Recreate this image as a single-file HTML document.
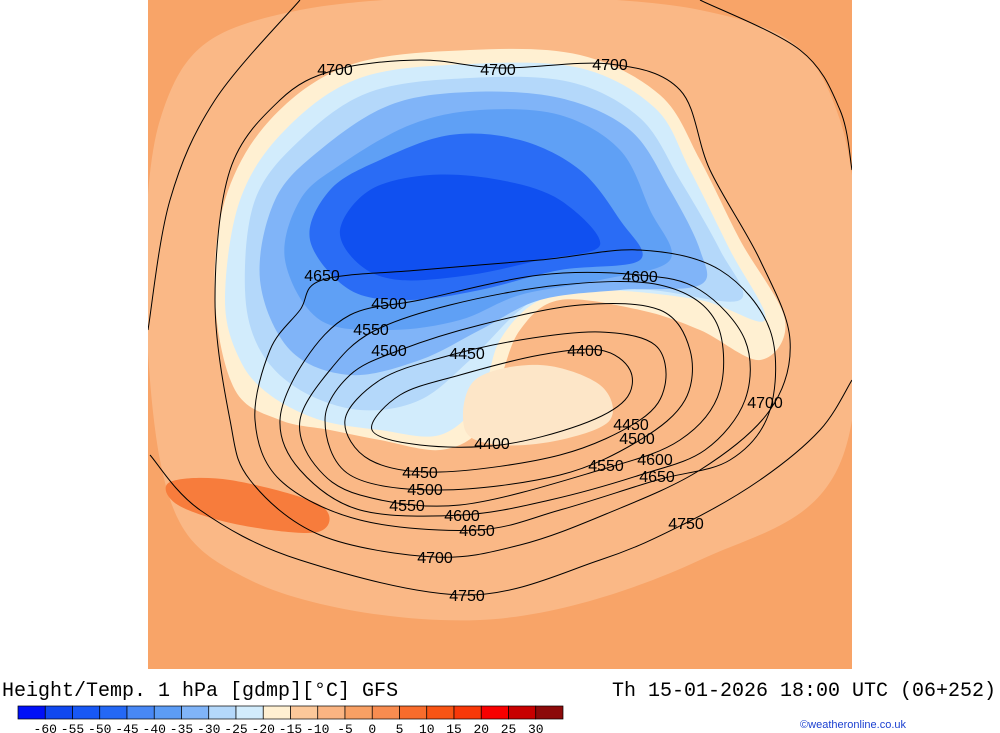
<!DOCTYPE html>
<html><head><meta charset="utf-8"><style>
body{margin:0;background:#fff;width:1000px;height:733px;overflow:hidden;font-family:"Liberation Sans",sans-serif}
svg{position:absolute;left:0;top:0}
</style></head><body>
<svg id="s" width="1000" height="733">
<rect x="0" y="0" width="1000" height="733" fill="#fff"/>
<clipPath id="mc"><rect x="148" y="0" width="704" height="669"/></clipPath>
<g id="map" clip-path="url(#mc)">
<rect x="148" y="0" width="704" height="669" fill="#f8a468"/>
</g>
<text x="2" y="696" font-family="Liberation Mono, monospace" font-size="20">Height/Temp. 1 hPa [gdmp][°C] GFS</text>
<text x="996" y="696" text-anchor="end" font-family="Liberation Mono, monospace" font-size="20">Th 15-01-2026 18:00 UTC (06+252)</text>
<g id="cb"></g>
<text x="906" y="728" text-anchor="end" font-size="11" fill="#1a3fd0">©weatheronline.co.uk</text>
</svg>
<script>
const cbColors=["#0010f8","#1048f0","#1858f5","#2468f5","#4888f5","#5c9cf5","#80b4f8","#b4d8fa","#d2ecfc","#fff0d2","#fcc89a","#fab482","#f8a064","#f88c50","#f86c2c","#f85414","#f83808","#f80000","#c80000","#8c0a0a"];
const cbLabels=["-60","-55","-50","-45","-40","-35","-30","-25","-20","-15","-10","-5","0","5","10","15","20","25","30"];
const levels=[4400,4450,4500,4550,4600,4650,4700,4750];
const NS="http://www.w3.org/2000/svg";
const s=document.getElementById('s'),map=document.getElementById('map'),cb=document.getElementById('cb');
function smooth(p,closed){
 let n=p.length,d="M"+p[0][0]+","+p[0][1];
 let last=closed?n:n-1;
 for(let i=0;i<last;i++){
  let p0=p[(i-1+n)%n],p1=p[i],p2=p[(i+1)%n],p3=p[(i+2)%n];
  if(!closed){if(i==0)p0=p1;if(i+2>=n)p3=p2;}
  let c1=[p1[0]+(p2[0]-p0[0])/6,p1[1]+(p2[1]-p0[1])/6],c2=[p2[0]-(p3[0]-p1[0])/6,p2[1]-(p3[1]-p1[1])/6];
  d+="C"+c1+" "+c2+" "+p2;
 }
 return d+(closed?"Z":"");
}
function fill(pts,col,name){const e=document.createElementNS(NS,'path');e.setAttribute('d',smooth(pts,true));e.setAttribute('fill',col);


map.appendChild(e);}
fill([[160,120],[300,10],[700,10],[840,120],[845,450],[700,560],[480,620],[250,580],[160,460]],"#fab886","warm-region");
fill([[170,482],[230,480],[320,505],[318,532],[240,525],[178,505]],"#f77c3c","warm-streak");
fill([[215,300],[225,200],[270,120],[350,65],[470,50],[580,55],[660,95],[700,160],[740,240],[785,320],[760,360],[700,330],[640,310],[560,300],[520,330],[500,380],[480,430],[440,450],[380,440],[330,430],[280,420],[235,390]],"#fff0d2","cream-band");
fill([[225,300],[240,200],[285,130],[360,78],[470,64],[580,68],[655,108],[690,170],[730,250],[765,320],[700,300],[600,290],[540,300],[500,340],[480,400],[440,435],[380,430],[320,420],[270,395],[240,360]],"#d2ecfc","cold-1");
fill([[245,290],[255,200],[300,140],[370,92],[470,78],[570,82],[640,118],[680,180],[720,250],[740,300],[650,290],[560,290],[520,310],[470,360],[420,400],[360,410],[300,390],[260,350]],"#b4d8fa","cold-2");
fill([[260,280],[275,200],[320,150],[390,105],[470,92],[560,98],[630,130],[670,190],[700,250],[700,285],[620,290],[540,300],[480,330],[420,360],[350,375],[290,350]],"#80b4f8","cold-3");
fill([[285,260],[300,200],[340,165],[410,125],[480,110],[560,115],[620,150],[650,210],[670,260],[600,280],[520,295],[460,320],[390,330],[320,320]],"#5fa0f5","cold-4");
fill([[310,240],[330,190],[380,160],[450,135],[520,140],[580,170],[620,220],[640,260],[560,270],[480,290],[410,300],[350,290]],"#2a6cf5","cold-5");
fill([[340,230],[370,190],[430,175],[500,180],[560,200],[600,245],[540,260],[470,275],[400,280],[360,265]],"#1050f0","cold-core");
fill([[475,380],[540,365],[600,385],[610,420],[560,440],[500,445],[465,430]],"#fde6c8","cream-patch");
const contours=[
 [[372,430],[400,395],[460,375],[540,355],[600,350],[630,370],[625,400],[580,425],[500,445],[420,445]],
 [[345,420],[380,380],[440,358],[520,340],[600,332],[655,345],[665,385],[640,420],[560,455],[440,472],[370,460]],
 [[325,420],[350,375],[400,350],[480,325],[580,305],[660,310],[690,350],[685,400],[640,440],[560,475],[440,490],[350,475]],
 [[300,420],[330,370],[372,332],[450,305],[560,285],[660,285],[715,320],[720,390],[680,440],[600,470],[460,505],[360,495],[315,465]],
 [[280,420],[305,360],[350,315],[420,300],[540,275],[640,275],[700,290],[745,340],[745,400],[705,450],[640,475],[550,500],[462,515],[360,510],[300,470]],
 [[255,420],[270,350],[300,310],[322,280],[420,270],[540,260],[640,250],[720,270],[770,330],[770,410],[730,460],[657,480],[560,510],[477,530],[360,520],[280,480]],
 [[230,420],[215,300],[230,170],[280,100],[335,70],[420,60],[500,68],[610,64],[680,90],[710,170],[760,260],[790,340],[770,410],[700,470],[606,514],[520,545],[435,557],[320,535],[250,480]]
];
contours.forEach((c,i)=>{const e=document.createElementNS(NS,'path');e.setAttribute('d',smooth(c,true));e.setAttribute('fill','none');e.setAttribute('stroke','#000');e.setAttribute('stroke-width','1');


map.appendChild(e);});
const open=[[[150,455],[200,510],[300,560],[467,595],[600,560],[686,523],[760,480],[820,430],[852,380]],[[148,330],[170,200],[215,100],[300,0]],[[700,0],[800,50],[840,110],[852,170]]];
open.forEach(c=>{const e=document.createElementNS(NS,'path');e.setAttribute('d',smooth(c,false));e.setAttribute('fill','none');e.setAttribute('stroke','#000');


map.appendChild(e);});
const labLevels=[4700,4700,4700,4650,4600,4500,4550,4500,4450,4400,4450,4500,4400,4450,4550,4600,4650,4500,4700,4600,4550,4650,4700,4750,4750];
const labPos=[[335,69],[498,69],[610,64],[322,275],[640,276],[389,303],[371,329],[389,350],[467,353],[585,350],[631,424],[637,438],[492,443],[420,472],[606,465],[655,459],[657,476],[425,489],[765,402],[462,515],[407,505],[477,530],[435,557],[686,523],[467,595]];
labPos.forEach((p,i)=>{const t=document.createElementNS(NS,'text');t.setAttribute('x',p[0]);t.setAttribute('y',p[1]+6);t.setAttribute('text-anchor','middle');t.setAttribute('font-size','16');t.textContent=labLevels[i];


map.appendChild(t);});
const x0=18,w=545/cbColors.length;
cbColors.forEach((c,i)=>{const r=document.createElementNS(NS,'rect');r.setAttribute('x',x0+i*w);r.setAttribute('y',706);r.setAttribute('width',w);r.setAttribute('height',13);r.setAttribute('fill',c);r.setAttribute('stroke','#000');r.setAttribute('stroke-width','0.7');


cb.appendChild(r);});
cbLabels.forEach((l,i)=>{const t=document.createElementNS(NS,'text');t.setAttribute('x',x0+(i+1)*w);t.setAttribute('y',733);t.setAttribute('text-anchor','middle');t.setAttribute('font-size','13');t.setAttribute('font-family','Liberation Mono, monospace');t.textContent=l;


cb.appendChild(t);});
</script>
</body></html>
